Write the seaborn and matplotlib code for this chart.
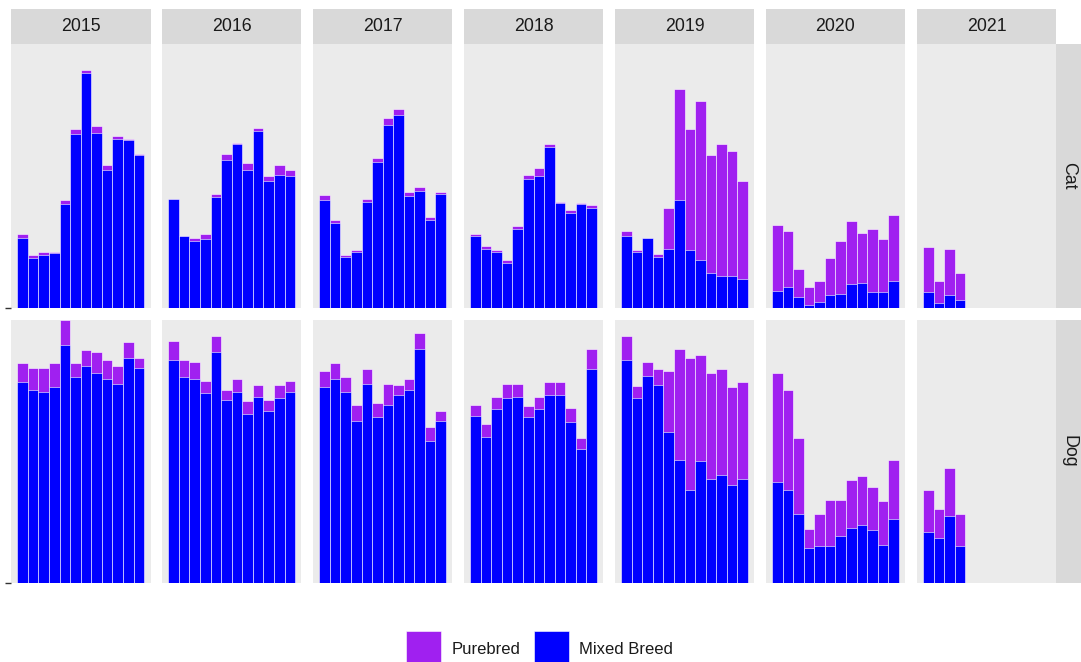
import numpy as np
import pandas as pd
import matplotlib
matplotlib.use("Agg")
import matplotlib.pyplot as plt
from matplotlib.patches import Patch
import seaborn as sns

# Facet levels
years = [2015, 2016, 2017, 2018, 2019, 2020, 2021]
species = ["Cat", "Dog"]
breed_labels = ["Purebred", "Mixed Breed"]

# Monthly intake counts per year (2021 covers January-April only)
cat_mixed = [
    [210, 148, 157, 163, 311, 518, 701, 523, 412, 503, 500, 456],
    [324, 214, 201, 206, 331, 441, 489, 413, 527, 379, 398, 394],
    [321, 255, 153, 168, 316, 437, 547, 576, 335, 350, 263, 340],
    [215, 177, 168, 134, 235, 384, 393, 480, 312, 283, 311, 297],
    [215, 168, 210, 153, 177, 321, 172, 143, 105, 95, 95, 86],
    [52, 62, 33, 9, 18, 38, 43, 71, 76, 47, 47, 81],
    [47, 14, 38, 23],
]
cat_purebred = [
    [10, 9, 11, 5, 10, 15, 9, 19, 15, 10, 5, 5],
    [2, 2, 9, 14, 9, 20, 4, 19, 10, 14, 28, 18],
    [15, 9, 5, 4, 10, 10, 19, 19, 10, 10, 10, 5],
    [5, 9, 4, 10, 9, 14, 24, 9, 4, 9, 1, 10],
    [15, 4, 0, 9, 120, 332, 361, 476, 351, 394, 375, 293],
    [197, 168, 82, 53, 63, 110, 158, 188, 149, 188, 159, 197],
    [135, 67, 139, 82],
]
dog_mixed = [
    [602, 578, 573, 587, 712, 616, 650, 630, 611, 597, 674, 645],
    [669, 616, 611, 568, 693, 549, 573, 505, 558, 515, 553, 573],
    [587, 611, 573, 486, 597, 496, 534, 563, 578, 702, 424, 486],
    [500, 438, 520, 553, 558, 496, 520, 563, 563, 481, 400, 640],
    [669, 554, 621, 592, 452, 370, 279, 366, 313, 323, 294, 313],
    [303, 279, 207, 106, 111, 111, 140, 164, 173, 159, 115, 193],
    [154, 135, 202, 111],
]
dog_purebred = [
    [57, 66, 71, 72, 76, 43, 47, 62, 57, 52, 47, 28],
    [57, 52, 52, 38, 48, 28, 38, 39, 34, 33, 39, 33],
    [47, 48, 43, 48, 43, 42, 63, 29, 33, 48, 43, 29],
    [34, 38, 38, 43, 38, 33, 38, 39, 39, 43, 33, 62],
    [71, 37, 42, 48, 183, 332, 394, 317, 317, 317, 293, 289],
    [327, 298, 226, 57, 96, 139, 110, 144, 149, 130, 131, 177],
    [125, 86, 144, 96],
]

PURPLE = "#A020F0"
BLUE = "#0000FF"
PANEL_BG = "#EBEBEB"
STRIP_BG = "#D9D9D9"
TEXT = "#1A1A1A"

rows = []
for sp, mixed, pure in [("Cat", cat_mixed, cat_purebred), ("Dog", dog_mixed, dog_purebred)]:
    for yr, m_list, p_list in zip(years, mixed, pure):
        for i, (m, p) in enumerate(zip(m_list, p_list)):
            rows.append(dict(species=sp, year=yr, month=i + 1,
                             mixed=m, purebred=p, total=m + p))
df = pd.DataFrame(rows)

sns.set_theme(style="white")
plt.rcParams["font.family"] = ["Liberation Sans", "DejaVu Sans"]

W, H = 1081, 662
fig = plt.figure(figsize=(W / 100, H / 100), dpi=100)


def fx(px):
    return px / W


def fy(py):
    return 1 - py / H


col_left0, col_step, col_w = 11.0, 150.95, 139.5
row_tops = [44.0, 320.0]
row_h = [264.0, 263.0]
strip_top, strip_h = 9.0, 35.0
rstrip_left, rstrip_w = 1056.0, 25.0
ymax = df["total"].max()


def blank(ax):
    ax.set_xticks([])
    ax.set_yticks([])
    for s in ax.spines.values():
        s.set_visible(False)


for r, sp in enumerate(species):
    for c, yr in enumerate(years):
        left = col_left0 + c * col_step
        ax = fig.add_axes([fx(left), fy(row_tops[r] + row_h[r]),
                           col_w / W, row_h[r] / H])
        ax.set_facecolor(PANEL_BG)
        sub = df[(df.species == sp) & (df.year == yr)]
        # stacked bars: full height in purple, mixed-breed share in blue
        sns.barplot(data=sub, x="month", y="total", native_scale=True,
                    width=1, color=PURPLE, saturation=1, errorbar=None,
                    edgecolor="white", linewidth=0.4, ax=ax)
        sns.barplot(data=sub, x="month", y="mixed", native_scale=True,
                    width=1, color=BLUE, saturation=1, errorbar=None,
                    edgecolor="white", linewidth=0.4, ax=ax)
        ax.set_xlim(-0.1, 13.1)
        ax.set_ylim(0, ymax)
        ax.set_xlabel("")
        ax.set_ylabel("")
        blank(ax)
        if c == 0:
            ax.set_yticks([0])
            ax.set_yticklabels([""])
            ax.tick_params(axis="y", left=True, length=4.3, width=1.0,
                           color="#333333", pad=1)

        if r == 0:
            sax = fig.add_axes([fx(left), fy(strip_top + strip_h),
                                col_w / W, strip_h / H])
            sax.set_facecolor(STRIP_BG)
            blank(sax)
            sax.text(0.5, 0.5, str(yr), ha="center", va="center",
                     fontsize=12.8, color=TEXT, transform=sax.transAxes)

    rax = fig.add_axes([fx(rstrip_left), fy(row_tops[r] + row_h[r]),
                        rstrip_w / W, row_h[r] / H])
    rax.set_facecolor(STRIP_BG)
    blank(rax)
    rax.text(0.5, 0.5, sp, ha="center", va="center", rotation=-90,
             fontsize=12.8, color=TEXT, transform=rax.transAxes)

handles = [Patch(facecolor=PURPLE, edgecolor="white", linewidth=0.4, label=breed_labels[0]),
           Patch(facecolor=BLUE, edgecolor="white", linewidth=0.4, label=breed_labels[1])]
fig.legend(handles=handles, loc="center", bbox_to_anchor=(fx(539.5), fy(649.5)),
           ncol=2, frameon=False, fontsize=12, labelcolor=TEXT,
           handlelength=2.1, handleheight=3.0, handletextpad=0.6,
           columnspacing=0.8, borderpad=0, borderaxespad=0)

fig.savefig("out.png", dpi=100, facecolor="white")
